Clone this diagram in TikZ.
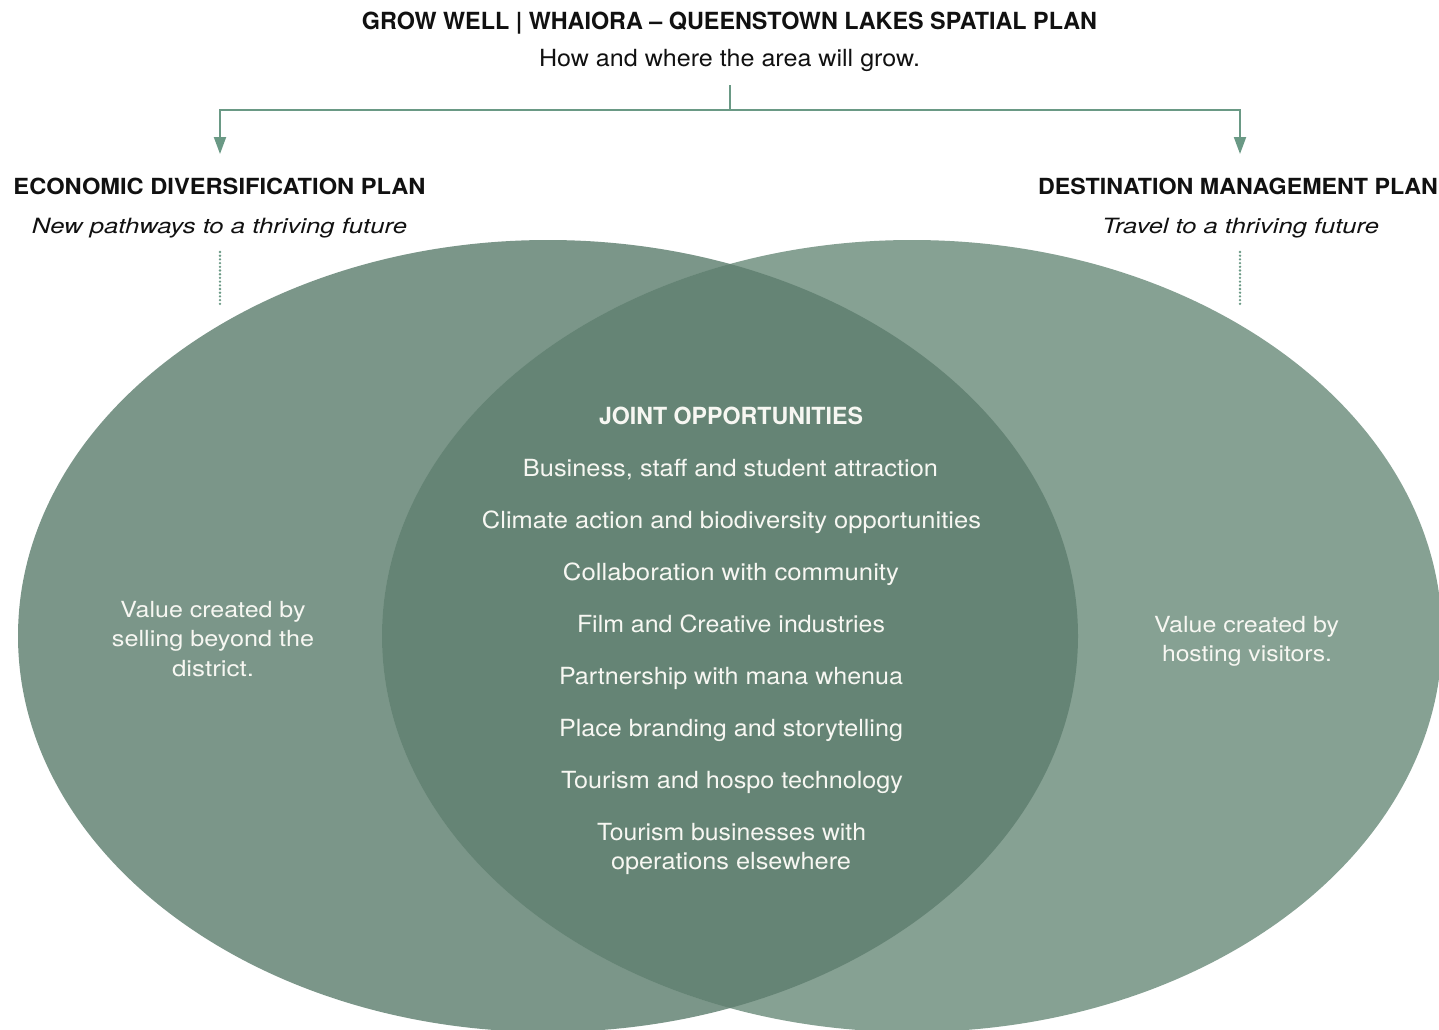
\documentclass[tikz,border=0pt]{standalone}
\usepackage{fontspec}
\setmainfont{TeX Gyre Heros}
\usepackage{graphicx}
\usetikzlibrary{arrows.meta}
\definecolor{leftc}{HTML}{7B9689}
\definecolor{rightc}{HTML}{86A193}
\definecolor{midc}{HTML}{658475}
\definecolor{linec}{HTML}{6A9985}
\definecolor{ink}{HTML}{111111}
\definecolor{paper}{HTML}{F7F7F2}
\newcommand\fw[2]{\resizebox{#1pt}{\height}{#2}}
\tikzset{
  txt/.style={anchor=base, inner sep=0pt, outer sep=0pt},
  hd/.style={txt, text=ink, font=\fontsize{22.2}{26}\selectfont\bfseries},
  sub/.style={txt, text=ink, font=\fontsize{21}{25}\selectfont\itshape},
  inb/.style={txt, text=paper, font=\fontsize{23.6}{28}\selectfont},
  side/.style={txt, text=paper, font=\fontsize{22.2}{28}\selectfont},
  conn/.style={draw=linec, line width=2pt},
  tip/.style={-{Triangle[length=17pt,width=12pt]}},
  dotline/.style={draw=linec, line width=2.6pt, line cap=round, dash pattern=on 0pt off 3.7pt}
}
\begin{document}
\begin{tikzpicture}[x=1pt,y=-1pt]
\useasboundingbox (0,0) rectangle (1439,1029);
\fill[white] (0,0) rectangle (1439,1029);
% ellipses
\fill[leftc] (548,636) ellipse [x radius=530pt, y radius=396pt];
\fill[rightc] (912,636) ellipse [x radius=530pt, y radius=396pt];
\begin{scope}
  \clip (548,636) ellipse [x radius=530pt, y radius=396pt];
  \fill[midc] (912,636) ellipse [x radius=530pt, y radius=396pt];
\end{scope}
% top texts
\node[txt, text=ink, font=\fontsize{23.6}{28}\selectfont\bfseries] (title) at (729.5,29) {\fw{735}{GROW WELL | WHAIORA – QUEENSTOWN LAKES SPATIAL PLAN}};
\node[txt, text=ink, font=\fontsize{23.6}{28}\selectfont] (subt) at (729.5,66) {\fw{381}{How and where the area will grow.}};
% connectors
\coordinate (j0) at (730,85);
\coordinate (j) at (730,110);
\coordinate (aL) at (220,154);
\coordinate (aR) at (1240,154);
\draw[conn] (j0) -- (j);
\draw[conn, tip] (j) -| (aL);
\draw[conn, tip] (j) -| (aR);
% headers
\node[hd] (edp) at (219.5,194) {\fw{412}{ECONOMIC DIVERSIFICATION PLAN}};
\node[sub] (edps) at (219.5,233) {\fw{375}{New pathways to a thriving future}};
\node[hd] (dmp) at (1238,194) {\fw{400}{DESTINATION MANAGEMENT PLAN}};
\node[sub] (dmps) at (1240.5,233) {\fw{277}{Travel to a thriving future}};
\coordinate (dL1) at (220,252);
\coordinate (dL2) at (220,307);
\coordinate (dR1) at (1240,252);
\coordinate (dR2) at (1240,307);
\draw[dotline] (dL1) -- (dL2);
\draw[dotline] (dR1) -- (dR2);
% joint opportunities
\node[txt, text=paper, font=\fontsize{23.6}{28}\selectfont\bfseries] (joint) at (731,424) {\fw{264}{JOINT OPPORTUNITIES}};
\node[inb] (o1) at (730.5,476) {\fw{415}{Business, staff and student attraction}};
\node[inb] (o2) at (731.5,528) {\fw{499}{Climate action and biodiversity opportunities}};
\node[inb] (o3) at (731,580) {\fw{336}{Collaboration with community}};
\node[inb] (o4) at (731,632) {\fw{308}{Film and Creative industries}};
\node[inb] (o5) at (731,684) {\fw{344}{Partnership with mana whenua}};
\node[inb] (o6) at (731,736) {\fw{344}{Place branding and storytelling}};
\node[inb] (o7) at (732,788) {\fw{342}{Tourism and hospo technology}};
\node[inb] (o8a) at (731.5,840) {\fw{269}{Tourism businesses with}};
\node[inb] (o8b) at (731,869) {\fw{240}{operations elsewhere}};
% side texts
\node[side] (l1) at (213,617) {\fw{185}{Value created by}};
\node[side] (l2) at (213,646.5) {\fw{202}{selling beyond the}};
\node[side] (l3) at (213,676) {\fw{82}{district.}};
\node[side] (r1) at (1246.5,632) {\fw{185}{Value created by}};
\node[side] (r2) at (1247,661) {\fw{170}{hosting visitors.}};
\end{tikzpicture}
\end{document}
